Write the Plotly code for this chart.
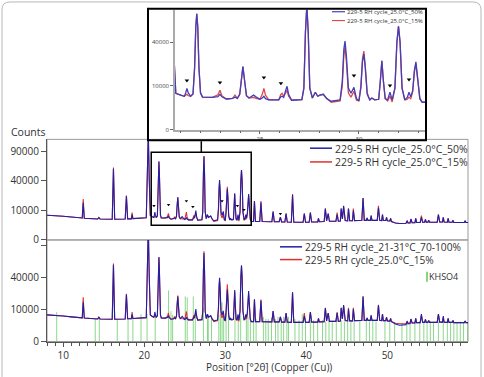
import numpy as np
import plotly.graph_objects as go

W, H = 484, 377


def px(x):
    return x / W


def py(y):
    return 1 - y / H


# ---------------- data ----------------
# rows are grouped the same way in every list (one row = one group of peaks)
two_theta = [
    8.0, 9.0, 10.0, 11.0, 12.0, 12.35, 12.47, 12.6,
    14.25, 14.4, 14.55, 16.05, 16.2, 16.35, 17.65, 17.8, 17.95, 18.4, 18.5, 18.6,
    20.25, 20.38, 20.5, 20.62, 20.75, 21.0, 21.18, 21.25, 21.31, 21.38, 21.5,
    21.62, 21.7, 21.76, 21.81, 21.86, 21.92, 22.0, 22.1,
    22.6, 22.88, 22.98, 23.08, 23.3, 23.62, 23.74, 23.86,
    23.98, 24.06, 24.14, 24.22, 24.32, 24.45, 24.58, 24.68, 24.8,
    25.0, 25.12, 25.2, 25.28, 25.45, 25.95, 26.05, 26.12, 26.2, 26.3, 26.37, 26.45, 26.6,
    27.12, 27.22, 27.3, 27.37, 27.44, 27.52, 27.65, 27.8, 27.92, 28.03, 28.2, 28.38, 28.6,
    29.05, 29.16, 29.24, 29.3, 29.37, 29.47, 29.6, 29.75, 29.88, 30.0,
    30.1, 30.18, 30.25, 30.32, 30.42, 30.55, 30.65, 30.8, 31.0,
    31.08, 31.16, 31.24, 31.33, 31.45, 31.57, 31.68,
    31.82, 31.92, 32.0, 32.08, 32.18, 32.32,
    32.45, 32.53, 32.62, 32.72, 32.8, 32.88, 32.96, 33.08, 33.2,
    33.48, 33.6, 33.72, 34.25, 34.4, 34.55, 35.75, 35.9, 36.05, 36.65, 36.8, 36.95,
    37.35, 37.5, 37.65, 38.15, 38.3, 38.45, 39.6, 39.75, 39.9, 40.35, 40.5, 40.65, 41.4, 41.5, 41.6,
    42.2, 42.35, 42.5, 42.7, 42.85, 43.65, 43.8, 43.95, 44.2, 44.3, 44.45, 44.6, 44.8, 45.1, 45.2,
    45.35, 45.7, 45.8, 45.95,
    46.85, 47.0, 47.15, 47.4, 47.5, 47.6, 47.9, 48.0, 48.1, 48.75, 48.9, 49.05, 49.3, 49.4, 49.5,
    49.8, 49.9, 50.0, 50.3, 50.4, 50.5,
    51.0, 51.5, 52.3, 52.45, 52.55, 52.8, 52.9, 53.05, 53.4, 53.5, 53.6, 54.05, 54.2, 54.35, 54.6,
    54.7, 54.8, 55.0, 55.1, 55.2,
    56.15, 56.3, 56.45, 56.8, 56.9, 57.0, 57.4, 57.5, 57.6, 58.0, 58.1, 58.2, 59.5, 59.6, 59.7, 60.0,
]

counts_50 = [
    7000, 6800, 6400, 6000, 5600, 5500, 15700, 5400,
    5000, 5800, 5000, 4900, 58000, 4900, 5000, 22000, 5100, 5100, 7400, 5200,
    5600, 40000, 130000, 40000, 6900, 6200, 5800, 7000, 8900, 7000, 5800,
    6600, 20000, 55000, 70300, 55000, 20000, 7000, 5500,
    5400, 5700, 6500, 5600, 4900, 5100, 5500, 5100,
    6500, 14000, 20700, 13000, 6000, 5200, 5800, 6200, 5600,
    4800, 5200, 5800, 5000, 4600, 4600, 5600, 5800, 5400, 8000, 9800, 6500, 4500,
    4700, 9000, 50000, 80000, 50000, 9000, 5200, 7300, 5800, 6200, 6500, 5000, 4200,
    4600, 12000, 34000, 40900, 28000, 9000, 6900, 9300, 5000, 4300,
    9000, 24000, 29900, 20000, 6500, 4600, 5200, 4600, 4800,
    12000, 24700, 12000, 5000, 4600, 7300, 4600,
    9000, 40000, 55700, 40000, 9000, 4600,
    5500, 7300, 5600, 8000, 18000, 24000, 15000, 5000, 3900,
    3900, 17400, 3900, 3900, 16000, 3900, 3800, 9200, 3800, 3800, 6000, 3700,
    3700, 7900, 3700, 3600, 23000, 3600, 3600, 7900, 3600, 3600, 8500, 3700, 3700, 5300, 3800,
    3900, 11200, 4200, 7900, 4000, 4000, 7400, 4000, 4100, 11200, 5000, 13300, 4300, 4200, 11200,
    4200, 4200, 9800, 4300,
    4400, 20100, 4400, 4400, 5500, 4400, 4400, 6800, 4400, 4400, 11900, 4400, 4300, 7400, 4300,
    4300, 5800, 4200, 4100, 5300, 3900,
    3300, 3100, 3200, 4200, 3300, 3300, 5000, 3400, 3400, 5300, 3500, 3500, 5800, 3600, 3600,
    4800, 3600, 3600, 4400, 3600,
    3600, 7400, 3700, 3700, 5800, 3700, 3600, 5300, 3600, 3600, 4400, 3500, 3500, 4200, 3500, 3500,
]

counts_15 = [
    7000, 6800, 6400, 6000, 5600, 5500, 19200, 5400,
    5000, 5600, 5000, 4900, 60000, 4900, 5000, 22500, 5100, 5100, 8500, 5200,
    5600, 40000, 130000, 40000, 6900, 6200, 5800, 6200, 6500, 6000, 5800,
    6600, 20000, 55000, 70300, 55000, 20000, 7000, 5500,
    5400, 6300, 8100, 6000, 4900, 5100, 6200, 5100,
    6500, 14000, 20700, 13000, 6000, 5200, 5200, 5400, 5100,
    4800, 6500, 8900, 6200, 4600, 4600, 6400, 6900, 5800, 7000, 8100, 5800, 4500,
    4700, 9000, 50000, 80000, 50000, 9000, 5200, 7300, 5800, 6200, 6500, 5000, 3900,
    4300, 10000, 29000, 35600, 24000, 7000, 5500, 7700, 4500, 4300,
    10000, 26000, 32300, 22000, 7000, 4600, 5200, 4600, 4800,
    12000, 24700, 12000, 5000, 4300, 5800, 4000,
    9000, 40000, 55700, 40000, 9000, 4600,
    4800, 5500, 5000, 7500, 17000, 22700, 14000, 5000, 3900,
    3900, 17400, 3900, 3900, 17400, 3900, 3800, 9200, 3800, 3800, 6000, 3700,
    3700, 7900, 3700, 3600, 24000, 3600, 3600, 7900, 3600, 3600, 8500, 3700, 3700, 5300, 3800,
    3900, 11200, 4200, 7900, 4000, 4000, 8500, 4000, 4100, 11200, 5000, 12500, 4300, 4200, 11200,
    4200, 4200, 11200, 4300,
    4400, 20100, 4400, 4400, 5500, 4400, 4400, 6800, 4400, 4400, 13300, 4400, 4300, 7400, 4300,
    4300, 5800, 4200, 4100, 5300, 3900,
    3300, 3100, 3200, 4200, 3300, 3300, 5000, 3400, 3400, 5300, 3500, 3500, 6800, 3600, 3600,
    4800, 3600, 3600, 4400, 3600,
    3600, 7400, 3700, 3700, 5800, 3700, 3600, 5300, 3600, 3600, 4400, 3500, 3500, 4200, 3500, 3500,
]

counts_70_100 = [
    7000, 6800, 6400, 6000, 5600, 5500, 15100, 5400,
    5000, 5900, 5000, 4900, 57600, 4900, 5000, 21800, 5100, 5100, 7200, 5200,
    5600, 40000, 130000, 40000, 6900, 6200, 5800, 6900, 8600, 6900, 5800,
    6600, 20000, 55000, 70000, 55000, 20000, 7000, 5500,
    5400, 5700, 6500, 5600, 4900, 5100, 5500, 5100,
    6500, 13500, 20000, 12500, 6000, 5200, 5800, 6200, 5600,
    4800, 5200, 5800, 5000, 4600, 4600, 5600, 5800, 5400, 8500, 10300, 6800, 4500,
    4700, 9000, 48000, 77000, 48000, 9000, 5200, 7300, 5800, 6200, 6500, 5000, 4200,
    4600, 12000, 33000, 40000, 27000, 9000, 6900, 9300, 5000, 4300,
    8500, 21000, 26600, 18000, 6500, 4600, 5200, 4600, 4800,
    12500, 26000, 12500, 5000, 4600, 7300, 4600,
    9000, 41000, 57000, 41000, 9000, 4600,
    5500, 7300, 5600, 8000, 19000, 25000, 15000, 5000, 3900,
    3900, 17500, 3900, 3900, 16500, 3900, 3800, 9100, 3800, 3800, 6000, 3700,
    3700, 8000, 3700, 3600, 23700, 3600, 3600, 6400, 3600, 3600, 8500, 3700, 3700, 5300, 3800,
    3900, 11000, 4200, 7900, 4000, 4000, 8000, 4000, 4100, 11200, 5000, 13000, 4300, 4200, 10300,
    4200, 4200, 10300, 4300,
    4400, 20000, 4400, 4400, 5500, 4400, 4400, 6800, 4400, 4400, 13000, 4400, 4300, 7400, 4300,
    4300, 5800, 4200, 4100, 5300, 3900,
    3000, 2600, 2800, 4000, 3100, 3200, 5000, 3400, 3400, 5300, 3500, 3500, 7400, 3600, 3600,
    4800, 3600, 3600, 4400, 3600,
    3600, 7400, 3700, 3700, 6400, 3700, 3600, 5300, 3600, 3600, 4400, 3500, 3500, 4200, 3500, 3500,
]

khso4_pos = [
    9.2, 13.95, 14.45, 16.67, 18.0, 18.6, 19.6, 20.35, 21.35, 23.0,
    23.3, 23.5, 25.06, 25.3, 26.05, 26.3, 27.3, 27.8, 27.9, 28.3,
    29.2, 29.4, 29.6, 29.8, 30.1, 30.4, 31.2, 31.6, 31.9, 32.6,
    32.8, 33.1, 33.5, 33.8, 34.7, 35.0, 35.3, 35.7, 36.2, 36.5,
    36.9, 37.2, 37.6, 37.8, 38.6, 39.1, 39.5, 39.9, 40.5, 40.9,
    41.4, 42.0, 42.4, 42.8, 43.2, 43.7, 44.3, 44.7, 45.1, 45.5,
    45.9, 46.6, 47.4, 47.8, 48.2, 48.6, 49.7, 50.3, 50.9, 51.8,
    52.4, 52.8, 53.4, 54.0, 54.5, 54.9, 55.3, 55.7, 56.3, 56.9,
    57.4, 57.8, 58.2, 58.6, 59.0, 59.4, 59.9,
]
khso4_counts = [
    8500, 5000, 5000, 4600, 5000, 5000, 7400, 7400, 5900, 25600,
    9100, 7000, 20000, 19200, 20000, 7000, 11600, 6500, 6000, 6500,
    7000, 7000, 15100, 7000, 8000, 6000, 6000, 6000, 7000, 6000,
    6000, 5000, 5500, 5000, 6000, 5000, 5000, 5500, 5000, 6000,
    5000, 6000, 5000, 6000, 5000, 4500, 7400, 5000, 4500, 4500,
    4000, 4500, 4000, 4500, 4000, 4500, 4500, 4000, 4500, 4000,
    4500, 4000, 4500, 4000, 4500, 4000, 4000, 3800, 3500, 3500,
    3500, 3500, 3500, 4000, 3800, 3500, 4000, 3500, 4000, 3800,
    4000, 3800, 4000, 3800, 4000, 3800, 3500,
]

arrow_inset_pos = [21.31, 22.98, 25.2, 26.06, 29.75, 31.57, 32.53]
arrow_inset_counts = [12600, 11600, 14200, 11200, 15300, 10200, 13100]
arrow_main_pos = [21.2, 23.0, 25.2, 26.0, 29.6, 31.5, 32.3, 36.8]
arrow_main_counts = [13300, 14100, 17400, 12600, 17400, 13300, 10500, 7900]

main_y_ticks = [0, 10000, 40000, 90000]
main_y_labels = ["0", "10000", "40000", "90000"]
lower_y_labels = ["0", "10000", "40000", ""]
inset_y_ticks = [0, 10000, 40000]
inset_y_labels = ["0", "10000", "40000"]

label_50 = "229-5 RH cycle_25.0°C_50%"
label_15 = "229-5 RH cycle_25.0°C_15%"
label_70 = "229-5 RH cycle_21-31°C_70-100%"
label_khso4 = "KHSO4"
y_title = "Counts"
x_title = "Position [°2θ] (Copper (Cu))"

assert len(two_theta) == len(counts_50) == len(counts_15) == len(counts_70_100)
assert len(khso4_pos) == len(khso4_counts)

BLUE = "#2020a6"
RED = "#e23030"
GREEN = "rgba(110,205,110,0.8)"
FONT = "Open Sans"

s50 = np.sqrt(np.array(counts_50, dtype=float))
s15 = np.sqrt(np.array(counts_15, dtype=float))
s70 = np.sqrt(np.array(counts_70_100, dtype=float))

stick_x, stick_y = [], []
for p, c in zip(khso4_pos, khso4_counts):
    stick_x += [p, p, None]
    stick_y += [0, float(np.sqrt(c)), None]

fig = go.Figure()

# lower panel
fig.add_trace(go.Scatter(x=stick_x, y=stick_y, mode="lines",
                         line=dict(color=GREEN, width=1), xaxis="x", yaxis="y"))
fig.add_trace(go.Scatter(x=two_theta, y=s15, mode="lines",
                         line=dict(color=RED, width=1.1), xaxis="x", yaxis="y"))
fig.add_trace(go.Scatter(x=two_theta, y=s70, mode="lines",
                         line=dict(color=BLUE, width=1.1), xaxis="x", yaxis="y"))
# middle panel
fig.add_trace(go.Scatter(x=two_theta, y=s15, mode="lines",
                         line=dict(color=RED, width=1.1), xaxis="x2", yaxis="y2"))
fig.add_trace(go.Scatter(x=two_theta, y=s50, mode="lines",
                         line=dict(color=BLUE, width=1.1), xaxis="x2", yaxis="y2"))
fig.add_trace(go.Scatter(x=arrow_main_pos, y=np.sqrt(arrow_main_counts), mode="markers",
                         marker=dict(symbol="triangle-down", size=3, color="black"),
                         xaxis="x2", yaxis="y2"))
# inset
fig.add_trace(go.Scatter(x=two_theta, y=s15, mode="lines",
                         line=dict(color="#e04848", width=1.3), xaxis="x3", yaxis="y3"))
fig.add_trace(go.Scatter(x=two_theta, y=s50, mode="lines",
                         line=dict(color="#4040bb", width=1.3), xaxis="x3", yaxis="y3"))
fig.add_trace(go.Scatter(x=arrow_inset_pos, y=np.sqrt(arrow_inset_counts), mode="markers",
                         marker=dict(symbol="triangle-down", size=4, color="black"),
                         xaxis="x3", yaxis="y3"))

AX = "#555"
common_y = dict(ticks="outside", ticklen=5, tickcolor=AX, showline=True, linecolor=AX,
                linewidth=1, showgrid=False, zeroline=False,
                tickfont=dict(family=FONT, size=10, color="#333"))

fig.update_layout(
    width=W, height=H, margin=dict(l=0, r=0, t=0, b=0),
    paper_bgcolor="white", plot_bgcolor="rgba(0,0,0,0)", showlegend=False,
    font=dict(family=FONT, size=10, color="#333"),
    xaxis=dict(domain=[px(47), px(468)], range=[8, 59.95], anchor="y",
               tick0=0, dtick=10, ticks="outside", ticklen=4, tickcolor=AX,
               showline=True, linecolor=AX, linewidth=1, showgrid=False, zeroline=False,
               tickfont=dict(family=FONT, size=10, color="#333"),
               minor=dict(tick0=0, dtick=1, ticks="outside", ticklen=3, tickcolor=AX,
                          showgrid=False)),
    yaxis=dict(domain=[py(348), py(244.5)], range=[0, 318.5], anchor="x",
               tickvals=list(np.sqrt(main_y_ticks)), ticktext=lower_y_labels, **common_y),
    xaxis2=dict(domain=[px(47), px(468)], range=[8, 59.95], anchor="y2",
                showticklabels=False, showgrid=False, zeroline=False, showline=False,
                ticks=""),
    yaxis2=dict(domain=[py(244.5), py(142)], range=[0, 340], anchor="x2",
                tickvals=list(np.sqrt(main_y_ticks)), ticktext=main_y_labels, **common_y),
    xaxis3=dict(domain=[px(175), px(426)], range=[20.71, 33.39], anchor="y3",
                tick0=0, dtick=5, ticks="outside", ticklen=3, tickcolor="#666",
                showline=True, linecolor="#aaa", linewidth=1.5, showgrid=False,
                zeroline=False, tickfont=dict(family=FONT, size=6, color="#444"),
                minor=dict(tick0=0, dtick=1, ticks="outside", ticklen=2,
                           tickcolor="#666", showgrid=False)),
    yaxis3=dict(domain=[py(132), py(10)], range=[0, 274], anchor="x3",
                tickvals=list(np.sqrt(inset_y_ticks)), ticktext=inset_y_labels,
                ticks="outside", ticklen=3, tickcolor="#666", showline=True,
                linecolor="#aaa", linewidth=1.5, showgrid=False, zeroline=False,
                tickfont=dict(family=FONT, size=6, color="#444")),
)

shapes = []
# outer rounded border (its bottom edge lies below the visible page)
x0, x1, yt, yb = px(2), px(481), py(2), py(392)
rx, ry = 8 / W, 8 / H
path = (f"M {x0+rx},{yt} L {x1-rx},{yt} Q {x1},{yt} {x1},{yt-ry} "
        f"L {x1},{yb+ry} Q {x1},{yb} {x1-rx},{yb} L {x0+rx},{yb} "
        f"Q {x0},{yb} {x0},{yb+ry} L {x0},{yt-ry} Q {x0},{yt} {x0+rx},{yt} Z")
shapes.append(dict(type="path", path=path, xref="paper", yref="paper",
                   line=dict(color="#b8b8b8", width=1), layer="below"))
# panel frames
for top, bot in [(142, 244.5), (244.5, 348)]:
    shapes.append(dict(type="rect", xref="paper", yref="paper",
                       x0=px(47), x1=px(468), y0=py(bot), y1=py(top),
                       line=dict(color="#999", width=1), layer="below"))
# inset frame
shapes.append(dict(type="rect", xref="paper", yref="paper",
                   x0=px(148), x1=px(426), y0=py(143), y1=py(9),
                   line=dict(color="black", width=2)))
# zoom rectangle in the middle panel
shapes.append(dict(type="rect", xref="x2", yref="y2", x0=20.86, x1=33.2,
                   y0=float(np.sqrt(2450)), y1=float(np.sqrt(88000)),
                   line=dict(color="black", width=1.5)))
# connector
shapes.append(dict(type="line", xref="x2", yref="y2", x0=27.04, x1=27.04,
                   y0=float(np.sqrt(88000)), y1=334,
                   line=dict(color="black", width=1.5)))
# legend samples
shapes += [
    dict(type="line", xref="paper", yref="paper", x0=px(310), x1=px(332),
         y0=py(151), y1=py(151), line=dict(color=BLUE, width=1.5)),
    dict(type="line", xref="paper", yref="paper", x0=px(310), x1=px(332),
         y0=py(165), y1=py(165), line=dict(color=RED, width=1.5)),
    dict(type="line", xref="paper", yref="paper", x0=px(280), x1=px(302),
         y0=py(251.5), y1=py(251.5), line=dict(color=BLUE, width=1.5)),
    dict(type="line", xref="paper", yref="paper", x0=px(280), x1=px(302),
         y0=py(264.5), y1=py(264.5), line=dict(color=RED, width=1.5)),
    dict(type="line", xref="paper", yref="paper", x0=px(427), x1=px(427),
         y0=py(287), y1=py(277), line=dict(color="rgb(90,200,90)", width=1.5)),
    dict(type="line", xref="paper", yref="paper", x0=px(332), x1=px(345),
         y0=py(12), y1=py(12), line=dict(color=BLUE, width=1)),
    dict(type="line", xref="paper", yref="paper", x0=px(332), x1=px(345),
         y0=py(21), y1=py(21), line=dict(color=RED, width=1)),
]
fig.update_layout(shapes=shapes)


def note(text, x, y, size, xanchor="left", color="#333"):
    return dict(text=text, x=px(x), y=py(y), xref="paper", yref="paper",
                xanchor=xanchor, yanchor="middle", showarrow=False, borderpad=0,
                font=dict(family=FONT, size=size, color=color))


fig.update_layout(annotations=[
    note(label_50, 334, 151.5, 10.5),
    note(label_15, 334, 165.5, 10.5),
    note(label_70, 304, 251.5, 10.2),
    note(label_15, 304, 264.5, 10.2),
    note(label_khso4, 428, 282, 9),
    note(label_50, 346, 12, 6),
    note(label_15, 346, 21, 6),
    note(y_title, 10, 135, 10.5),
    note(x_title, 269, 373.5, 10, xanchor="center"),
])

fig.write_html("out.html")
